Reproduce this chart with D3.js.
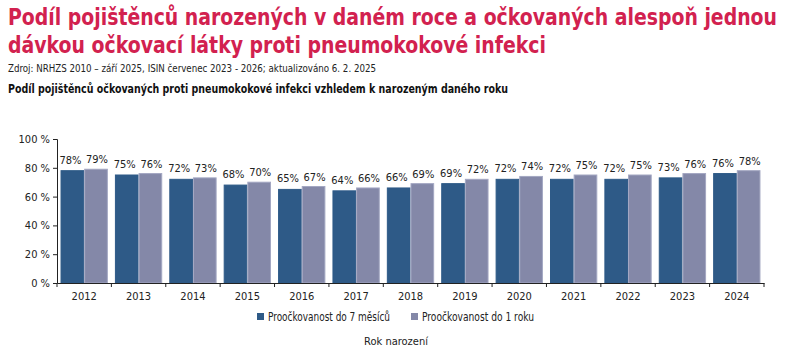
<!DOCTYPE html>
<html>
<head>
<meta charset="utf-8">
<script src="https://cdn.jsdelivr.net/npm/d3@7"></script>
<style>
  body { margin: 0; background: #fff; }
  text { font-family: "Liberation Sans Narrow", "DejaVu Sans Condensed", "Open Sans", sans-serif; }
</style>
</head>
<body>
<div id="chart"></div>
<script>
// === Data ===
const years = ["2012", "2013", "2014", "2015", "2016", "2017", "2018", "2019", "2020", "2021", "2022", "2023", "2024"];
const seriesNames = ["Proočkovanost do 7 měsíců", "Proočkovanost do 1 roku"];
const to7Months = [78, 75, 72, 68, 65, 64, 66, 69, 72, 72, 72, 73, 76];
const to1Year = [79, 76, 73, 70, 67, 66, 69, 72, 74, 75, 75, 76, 78];
const yTicks = [0, 20, 40, 60, 80, 100];

const width = 790, height = 354;
const margin = { left: 57, right: 26, top: 139, bottom: 70 };

const svg = d3.select("#chart").append("svg")
  .attr("width", width).attr("height", height);

// === Titles ===
// font sized so the natural width fits the page, then scaled vertically a bit
const red = "#d2214f";
const title = svg.append("g").attr("transform", "translate(8,0) scale(1,1.1)");
title.append("text").attr("x", 0).attr("y", 25 / 1.1)
  .attr("font-size", 21).attr("font-weight", "bold").attr("fill", red)
  .attr("textLength", 769).attr("lengthAdjust", "spacingAndGlyphs")
  .text("Podíl pojištěnců narozených v daném roce a očkovaných alespoň jednou");
title.append("text").attr("x", 0).attr("y", 53 / 1.1)
  .attr("font-size", 21).attr("font-weight", "bold").attr("fill", red)
  .attr("textLength", 538).attr("lengthAdjust", "spacingAndGlyphs")
  .text("dávkou očkovací látky proti pneumokokové infekci");
svg.append("text").attr("x", 8).attr("y", 72)
  .attr("font-size", 11).attr("fill", "#222")
  .attr("textLength", 368).attr("lengthAdjust", "spacingAndGlyphs")
  .text("Zdroj: NRHZS 2010 – září 2025, ISIN červenec 2023 - 2026; aktualizováno 6. 2. 2025");
svg.append("text").attr("x", 8).attr("y", 93)
  .attr("font-size", 12).attr("font-weight", "bold").attr("fill", "#111")
  .attr("textLength", 500).attr("lengthAdjust", "spacingAndGlyphs")
  .text("Podíl pojištěnců očkovaných proti pneumokokové infekci vzhledem k narozeným daného roku");

// === Scales ===
const x0 = d3.scaleBand().domain(years)
  .range([margin.left, width - margin.right])
  .paddingInner(0.13).paddingOuter(0.065);
const x1 = d3.scaleBand().domain([0, 1]).range([0, x0.bandwidth()]);
const y = d3.scaleLinear().domain([0, 100]).range([height - margin.bottom - 1, margin.top]);

const colors = ["#2e5a87", "#8488a8"];
const strokes = ["#2e5a87", "#a3a7c2"];

// === Bars ===
const groups = svg.selectAll("g.year").data(years).enter().append("g")
  .attr("transform", d => `translate(${x0(d)},0)`);

groups.selectAll("rect")
  .data((d, i) => [to7Months[i], to1Year[i]])
  .enter().append("rect")
  .attr("x", (d, j) => x1(j) + 0.5)
  .attr("y", d => y(d))
  .attr("width", x1.bandwidth() - 1)
  .attr("height", d => y(0) - y(d))
  .attr("fill", (d, j) => colors[j])
  .attr("stroke", (d, j) => strokes[j])
  .attr("stroke-width", 1);

groups.selectAll("text.val")
  .data((d, i) => [to7Months[i], to1Year[i]])
  .enter().append("text")
  .attr("class", "val")
  .attr("x", (d, j) => x1(j) + x1.bandwidth() / 2 - (j === 0 ? 2 : -1))
  .attr("y", (d, j) => y(d) - (j === 0 ? 7 : 6))
  .attr("text-anchor", "middle")
  .attr("font-size", 11).attr("fill", "#222")
  .text(d => d + "%");

// === Axes ===
const yAxis = svg.append("g")
  .attr("transform", `translate(${margin.left},0)`)
  .call(d3.axisLeft(y).tickValues(yTicks).tickSize(4).tickFormat(d => d + " %"));
yAxis.select(".domain").attr("stroke", "#222");
yAxis.selectAll(".tick line").attr("stroke", "#222");
yAxis.selectAll(".tick text").attr("font-size", 11).attr("fill", "#222")
  .attr("font-family", "'Liberation Sans Narrow', 'DejaVu Sans Condensed', sans-serif");

const xAxis = svg.append("g")
  .attr("transform", `translate(0,${y(0)})`)
  .call(d3.axisBottom(x0).tickSize(0).tickSizeOuter(0));
xAxis.select(".domain").attr("stroke", "#222");
xAxis.selectAll(".tick text").attr("font-size", 11).attr("fill", "#222").attr("dy", "1.3em")
  .attr("font-family", "'Liberation Sans Narrow', 'DejaVu Sans Condensed', sans-serif");

// category separators
const step = x0.step();
const sepX = d3.range(years.length + 1).map(i => margin.left + i * step);
svg.selectAll("line.sep").data(sepX).enter().append("line")
  .attr("x1", d => d).attr("x2", d => d)
  .attr("y1", y(0)).attr("y2", y(0) + 4)
  .attr("stroke", "#222");

// === Legend ===
const legendX = [257, 411];
const legendLen = [122, 112];
const legend = svg.selectAll("g.leg").data(seriesNames).enter().append("g")
  .attr("transform", (d, i) => `translate(${legendX[i]},321)`);
legend.append("rect").attr("x", 0).attr("y", -8).attr("width", 7).attr("height", 7)
  .attr("fill", (d, i) => colors[i]);
legend.append("text").attr("x", 11).attr("y", 0)
  .attr("font-size", 11.5).attr("fill", "#222")
  .attr("textLength", (d, i) => legendLen[i]).attr("lengthAdjust", "spacingAndGlyphs")
  .text(d => d);

svg.append("text").attr("x", 396).attr("y", 345)
  .attr("text-anchor", "middle").attr("font-size", 11).attr("fill", "#222")
  .text("Rok narození");
</script>
</body>
</html>
